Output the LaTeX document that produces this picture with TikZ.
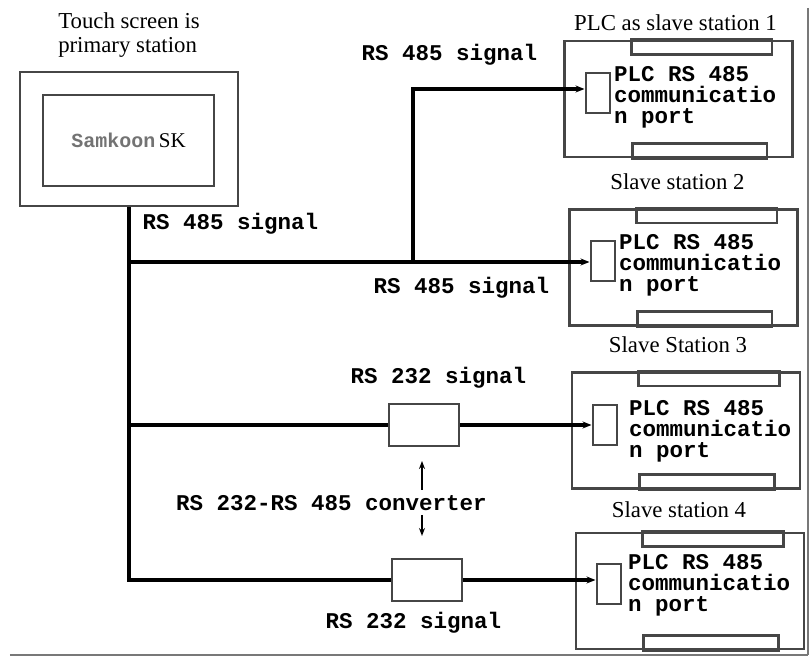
\documentclass[tikz,border=0pt]{standalone}
\usepackage{fontspec}
\setmainfont{Liberation Serif}
\setmonofont{Liberation Mono}
\usetikzlibrary{arrows.meta,positioning}
\definecolor{boxgrey}{RGB}{70,70,70}
\definecolor{framegrey}{RGB}{120,120,120}

\begin{document}
\begin{tikzpicture}[x=0.5pt, y=-0.5pt, line width=1.2pt,
  box/.style={draw=boxgrey, line width=1.3pt, inner sep=0pt},
  slave/.style={box, minimum width=114pt, minimum height=58pt},
  port/.style={box, line width=1pt, minimum width=12pt, minimum height=20pt},
  conv/.style={box, line width=1pt, minimum width=35pt, minimum height=21pt},
  sig/.style={font=\fontsize{11.25}{10.5}\selectfont\ttfamily\bfseries, inner sep=0pt, align=left},
  caption/.style={font=\fontsize{11.4}{12}\selectfont, inner sep=0pt, align=left},
  wire/.style={draw=black, line width=1.6pt},
  feed/.style={-{Stealth[length=4.5pt,width=3.5pt]}},
  pointer/.style={line width=1pt, -{Stealth[length=4pt,width=3pt]}}]
\useasboundingbox (0,0) rectangle (811,657);

% frame of the figure
\draw[framegrey, line width=1pt] (808,8) -- (808,655);
\draw[framegrey, line width=1.4pt] (10,655) -- (808,655);

% touch screen (master)
\node[caption] (tslab) at (129,35) {Touch screen is\\primary station};
\node[box, minimum width=109pt, minimum height=67pt] (ts) at (129,139) {};
\node[box, minimum width=85.5pt, minimum height=45.5pt] (scr) at (128.5,140.5) {};
\node[inner sep=0pt] (sk) at (scr) {\textcolor{black!55}{\fontsize{10}{12}\selectfont\ttfamily\bfseries Samkoon}\fontsize{10.5}{12}\selectfont\,SK};

% slave stations
\node[slave] (s1) at (678.5,99) {};
\node[slave] (s2) at (683.5,267.5) {};
\node[slave] (s3) at (686,430.5) {};
\node[slave] (s4) at (690,591) {};
\node[caption] (c1) at (675.5,23) {PLC as slave station 1};
\node[caption] (c2) at (677.5,182) {Slave station 2};
\node[caption] (c3) at (678,345) {Slave Station 3};
\node[caption] (c4) at (679,510) {Slave station 4};
\foreach \s in {s1,s2,s3,s4} {
  \draw[box] ([xshift=34pt]\s.north west) rectangle ([xshift=-11pt,yshift=-7.5pt]\s.north east);
  \draw[box] ([xshift=34.5pt]\s.south west) rectangle ([xshift=-13.5pt,yshift=7.5pt]\s.south east);
}

% ports
\node[port] (p1) at (597.5,93.5) {};
\node[port] (p2) at (602.5,261) {};
\node[port] (p3) at (604.5,425) {};
\node[port] (p4) at (608.5,584) {};
\node[sig, anchor=west] (t1) at (613,97) {PLC RS 485\\communicatio\\n port};
\node[sig, anchor=west] (t2) at (618,265) {PLC RS 485\\communicatio\\n port};
\node[sig, anchor=west] (t3) at (628,431) {PLC RS 485\\communicatio\\n port};
\node[sig, anchor=west] (t4) at (627,585) {PLC RS 485\\communicatio\\n port};

% converters
\node[conv] (cv1) at (424,425) {};
\node[conv] (cv2) at (426.5,580) {};

% bus and branches
\coordinate (b2) at (129,262);
\coordinate (b3) at (129,425);
\coordinate (b4) at (129,580);
\coordinate (b1) at (413,262);
\coordinate (k1) at (413,89);
\draw[wire] (ts.south) -- (b4) -- (cv2.west);
\draw[wire] (b3) -- (cv1.west);
\draw[wire, feed] (b2) -- (b2 -| p2.west);
\draw[wire, feed] (b1) -- (k1) -- (k1 -| p1.west);
\draw[wire, feed] (cv1.east) -- (cv1.east -| p3.west);
\draw[wire, feed] (cv2.east) -- (cv2.east -| p4.west);

% signal labels
\node[sig] (l1) at (449.5,55) {RS 485 signal};
\node[sig] (l2) at (230.5,224) {RS 485 signal};
\node[sig] (l3) at (461.5,288) {RS 485 signal};
\node[sig] (l4) at (438.5,378) {RS 232 signal};
\node[sig] (lc) at (331.5,503) {RS 232-RS 485 converter};
\node[sig] (l5) at (413.5,623) {RS 232 signal};

% converter pointers
\coordinate (ua) at (422,490);
\coordinate (da) at (422,515);
\draw[pointer, shorten >=7pt] (ua) -- (ua |- cv1.south);
\draw[pointer, shorten >=11pt] (da) -- (da |- cv2.north);
\end{tikzpicture}
\end{document}
